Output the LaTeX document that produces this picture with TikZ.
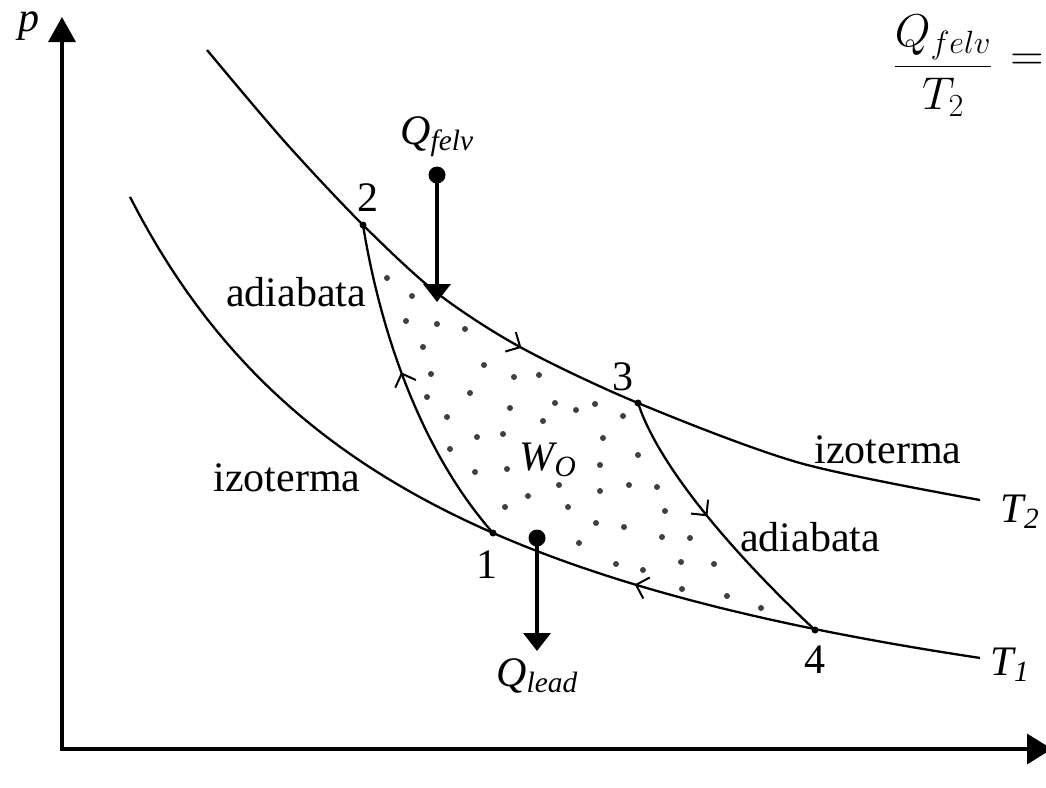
\RequirePackage{fix-cm}
\documentclass[tikz,border=0pt]{standalone}
\usepackage{fontspec}
\setmainfont{Liberation Serif}
\usetikzlibrary{arrows.meta,decorations.markings}
\begin{document}
\begin{tikzpicture}[x=1pt,y=-1pt,
  curve/.style={line width=2.3pt},
  axisline/.style={line width=3.5pt,{Triangle[length=25pt,width=27pt]}-{Triangle[length=25pt,width=30pt]}},
  heat/.style={line width=3.5pt,-{Triangle[length=18pt,width=27pt]}},
  bigdot/.style={circle,fill,inner sep=0pt,minimum size=17pt},
  vdot/.style={circle,fill,inner sep=0pt,minimum size=7pt},
  lbl/.style={inner sep=0pt,font=\fontsize{42}{50}\selectfont},
  mathlbl/.style={inner sep=0pt,font=\fontsize{46}{55}\selectfont},
  flow/.style={postaction={decorate},decoration={markings,mark=at position #1 with {\arrow{Straight Barb[length=11pt,width=22pt,line width=2pt]}}}},
  rflow/.style={postaction={decorate},decoration={markings,mark=at position #1 with {\arrowreversed{Straight Barb[length=11pt,width=22pt,line width=2pt]}}}}
]
\useasboundingbox (0,0) rectangle (1046,787);
\fill[white] (0,0) rectangle (1046,787);

% axes
\coordinate (O) at (62,749);
\coordinate (ytip) at (62,17);
\coordinate (xtip) at (1052,749);
\draw[axisline] (ytip) -- (O) -- (xtip);
\node[lbl,anchor=base] (plbl) at (29,31) {\textit{p}};

% cycle corners
\coordinate (P1) at (493,533);
\coordinate (P2) at (363,225);
\coordinate (P3) at (638,403);
\coordinate (P4) at (815,630);

% stipple
\foreach \x/\y in {387/278, 412/296, 406/321, 437/324, 465/329, 423/347, 484/365, 431/374, 514/377, 539/375,
  427/397, 470/393, 510/408, 555/403, 576/410, 595/404, 623/416, 447/417, 543/421, 477/437, 503/434, 603/438,
  450/449, 638/455, 475/472, 507/469, 600/465, 559/485, 600/491, 629/485, 657/487, 528/496, 505/507, 568/507,
  665/511, 596/523, 624/527, 662/537, 690/538, 579/543, 616/564, 643/570, 681/562, 714/564, 682/589, 727/596, 761/608}
  \fill[black!75] (\x,\y) circle (3pt);

% isotherms
\draw[curve,flow=0.473] plot[smooth] coordinates {(207,50) (285,142) (P2) (437,293) (520,347) (P3) (800,463) (980,500)};
\draw[curve,rflow=0.65] plot[domain=130:980,samples=90] (\x,{834.8-2080/((\x+196.1)/100)});

% adiabats
\draw[curve,flow=0.55] (P1) .. controls (420,450) and (380,330) .. (P2);
\draw[curve,flow=0.46] (P3) .. controls (660,470) and (740,560) .. (P4);

\node[vdot] (v1) at (P1) {};
\node[vdot] (v2) at (P2) {};
\node[vdot] (v3) at (P3) {};
\node[vdot] (v4) at (P4) {};

% heat arrows
\node[bigdot] (qf) at (437,175) {};
\coordinate (qft) at (437,302);
\draw[heat] (qf.center) -- (qft);
\node[bigdot] (ql) at (537,538) {};
\coordinate (qlt) at (537,651);
\draw[heat] (ql.center) -- (qlt);

% labels
\node[lbl] (l2) at (368,198) {2};
\node[lbl] (l3) at (623,377) {3};
\node[lbl] (l1) at (487,565) {1};
\node[lbl] (l4) at (815,660) {4};
\node[lbl] (ad1) at (296,292) {adiabata};
\node[lbl] (ad2) at (810,537) {adiabata};
\node[lbl] (iz1) at (287,478) {izoterma};
\node[lbl] (iz2) at (888,450) {izoterma};
\node[lbl] (t2) at (1020,512) {\textit{T\textsubscript{2}}};
\node[lbl] (t1) at (1010,665) {\textit{T\textsubscript{1}}};
\node[lbl] (wo) at (548,460) {\textit{W\textsubscript{O}}};
\node[lbl] (qfl) at (437,137) {\textit{Q\textsubscript{felv}}};
\node[lbl] (qll) at (537,676) {\textit{Q\textsubscript{lead}}};

% formula
\node[mathlbl] (frac) at (943,66) {$\displaystyle\frac{Q_{felv}}{T_2}$};
\node[mathlbl] (eq) at (1027,62) {$=$};
\end{tikzpicture}
\end{document}
